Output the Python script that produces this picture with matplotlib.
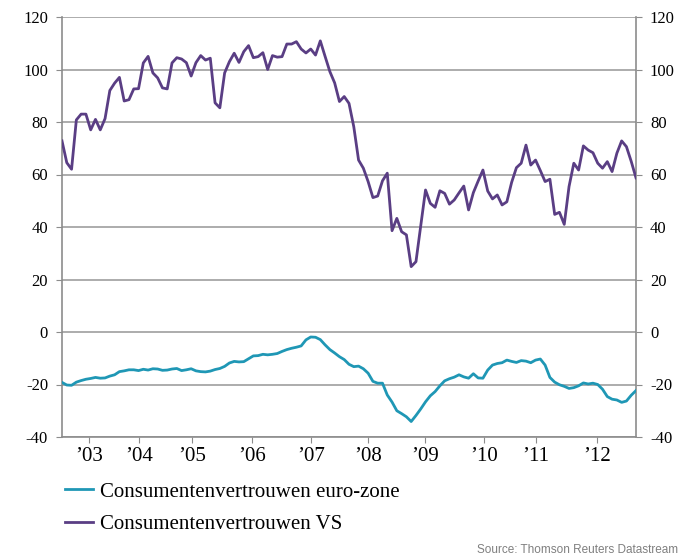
import matplotlib
matplotlib.use("Agg")
import matplotlib.pyplot as plt
from matplotlib.ticker import FuncFormatter
import numpy as np

# Monthly values, Jan 2003 .. Jan 2013
us_vs = [
    72.8, 64.5, 62.0, 80.8, 83.0, 83.0, 77.0, 81.0, 77.0, 81.3, 92.0, 94.8,
    97.0, 88.0, 88.5, 92.6, 92.7, 102.5, 105.0, 98.7, 96.8, 93.0, 92.6, 102.5,
    104.5, 104.0, 102.6, 97.5, 102.6, 105.3, 103.6, 104.3, 87.3, 85.4, 98.7, 103.0,
    106.2, 102.7, 106.8, 109.1, 104.5, 104.9, 106.4, 100.0, 105.3, 104.7, 104.9, 109.7,
    109.7, 110.6, 107.8, 106.3, 107.8, 105.5, 110.9, 105.0, 99.2, 94.9, 87.8, 89.7,
    87.1, 78.2, 65.5, 62.4, 57.3, 51.2, 51.8, 57.6, 60.5, 38.6, 43.3, 38.2,
    37.0, 24.9, 26.8, 40.5, 54.1, 49.0, 47.5, 53.8, 52.8, 48.7, 50.3, 53.0,
    55.6, 46.5, 53.1, 57.5, 61.7, 53.7, 50.7, 52.2, 48.4, 49.6, 57.0, 62.6,
    64.3, 71.2, 63.6, 65.5, 61.5, 57.3, 58.2, 44.8, 45.6, 41.0, 55.4, 64.3,
    61.7, 70.9, 69.3, 68.3, 64.3, 62.4, 64.9, 61.1, 68.1, 72.8, 70.6, 65.0,
    58.7,
]

euro_zone = [
    -19.2, -20.2, -20.3, -19.1, -18.5, -18.0, -17.7, -17.3, -17.6, -17.5, -16.8, -16.3,
    -15.1, -14.8, -14.4, -14.4, -14.7, -14.2, -14.5, -14.0, -14.1, -14.6, -14.5, -14.1,
    -13.9, -14.7, -14.4, -14.0, -14.8, -15.1, -15.2, -14.9, -14.3, -13.9, -13.1, -11.8,
    -11.2, -11.4, -11.3, -10.2, -9.1, -9.0, -8.5, -8.7, -8.5, -8.2, -7.4, -6.7,
    -6.2, -5.8, -5.3, -3.0, -1.9, -2.0, -2.9, -4.9, -6.7, -8.0, -9.4, -10.5,
    -12.3, -13.2, -13.0, -14.0, -15.7, -18.8, -19.5, -19.5, -24.0, -26.7, -30.0, -31.1,
    -32.3, -34.1, -31.8, -29.3, -26.6, -24.3, -22.7, -20.5, -18.6, -17.8, -17.2, -16.3,
    -17.1, -17.6, -15.9, -17.5, -17.6, -14.5, -12.6, -12.0, -11.7, -10.7, -11.2, -11.6,
    -10.9, -11.1, -11.7, -10.7, -10.3, -12.6, -17.3, -19.1, -20.1, -20.7, -21.5, -21.2,
    -20.5, -19.4, -19.8, -19.5, -20.0, -21.8, -24.6, -25.6, -25.9, -26.8, -26.3, -24.1,
    -22.3,
]

year_labels = ["\u201903", "\u201904", "\u201905", "\u201906", "\u201907",
               "\u201908", "\u201909", "\u201910", "\u201911", "\u201912"]
year_tick_pos = [5.6, 16.1, 27.2, 39.7, 52.1, 64.0, 75.9, 88.2, 99.1, 111.8]
y_ticks = [-40, -20, 0, 20, 40, 60, 80, 100, 120]

euro_color = "#1f97b5"
us_color = "#5a3e84"
grid_color = "#a6a6a6"
axis_color = "#8c8c8c"
serif = ["Liberation Serif", "DejaVu Serif"]

fig = plt.figure(figsize=(6.8, 5.6), dpi=100)
ax = fig.add_axes([62 / 680, 1 - 437 / 560, (636 - 62) / 680, (437 - 17) / 560])

x = np.arange(len(us_vs))
ax.plot(x, euro_zone, color=euro_color, lw=2.0, label="Consumentenvertrouwen euro-zone",
        solid_joinstyle="round", zorder=3)
ax.plot(x, us_vs, color=us_color, lw=2.0, label="Consumentenvertrouwen VS",
        solid_joinstyle="round", zorder=3)

ax.set_xlim(0, len(us_vs) - 1)
ax.set_ylim(-40, 120)
ax.set_yticks(y_ticks)
ax.yaxis.set_major_formatter(FuncFormatter(lambda v, p: "%d" % int(round(v))))
ax.yaxis.grid(True, color=grid_color, lw=1.3)
ax.set_axisbelow(True)

ax.spines["top"].set_visible(False)
for s in ["left", "right", "bottom"]:
    ax.spines[s].set_color(axis_color)
    ax.spines[s].set_linewidth(1.2)

ax.set_xticks(year_tick_pos)
ax.set_xticklabels(year_labels, fontfamily=serif, fontsize=15)
ax.tick_params(axis="x", length=4, color=axis_color, pad=3)
ax.tick_params(axis="y", length=4, color=axis_color, labelsize=12, pad=6,
               left=True, right=True, labelleft=True, labelright=True)
for lbl in ax.get_yticklabels():
    lbl.set_fontfamily(serif)
for lbl in ax.yaxis.get_ticklabels(which="major"):
    lbl.set_fontfamily(serif)
for t in ax.yaxis.get_major_ticks():
    t.label2.set_fontfamily(serif)

leg = fig.legend(loc="upper left", bbox_to_anchor=(65 / 680, 1 - 482 / 560),
                 frameon=False, prop={"family": serif, "size": 15},
                 handlelength=1.35, handletextpad=0.35, labelspacing=0.62,
                 borderpad=0, borderaxespad=0)

fig.text(678 / 680, 1 - 553 / 560, "Source: Thomson Reuters Datastream",
         ha="right", va="baseline", fontsize=8.5, color="#7f7f7f",
         family=["Liberation Sans", "DejaVu Sans"])

fig.savefig("out.png", dpi=100)
